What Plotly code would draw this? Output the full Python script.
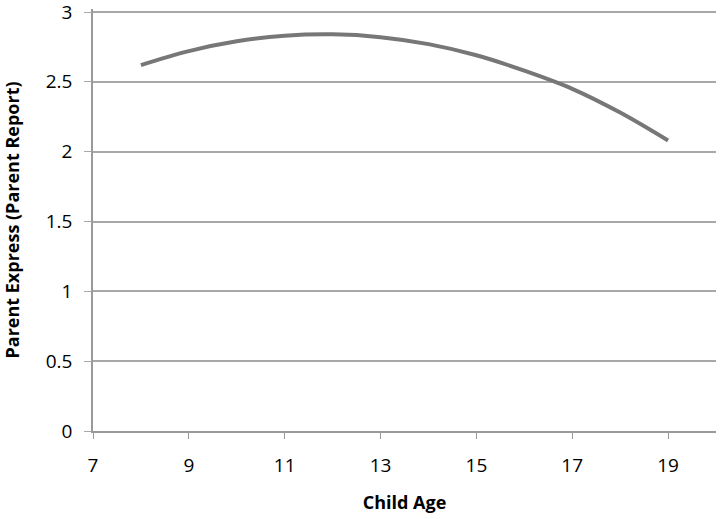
import plotly.graph_objects as go

ages = [8, 9, 10, 11, 12, 13, 14, 15, 16, 17, 18, 19]
parent_express = [2.62, 2.72, 2.79, 2.83, 2.84, 2.82, 2.77, 2.69, 2.58, 2.45, 2.28, 2.08]

x_tick_start, x_tick_step = 7, 2
y_tick_start, y_tick_step = 0, 0.5

fig = go.Figure()
fig.add_trace(go.Scatter(
    x=ages, y=parent_express, mode="lines",
    line=dict(color="#777777", width=4, shape="spline"),
    showlegend=False,
))

font = "Open Sans, Liberation Sans, Arial, sans-serif"
fig.update_layout(
    width=720, height=519,
    margin=dict(l=93, r=4, t=9, b=88),
    paper_bgcolor="white", plot_bgcolor="white",
    font=dict(family=font, size=19, color="black"),
    xaxis=dict(
        range=[7, 20], tickmode="linear", tick0=x_tick_start, dtick=x_tick_step,
        showgrid=False, zeroline=False, automargin=False,
        showline=True, linecolor="#9a9a9a", linewidth=1.5,
        ticks="outside", ticklen=6, tickcolor="#9a9a9a",
        tickfont=dict(size=19), ticklabelstandoff=10, ticklabeloverflow="allow",
        title=dict(text="<b>Child Age</b>", font=dict(size=18), standoff=20),
    ),
    yaxis=dict(
        range=[0, 3.0215], tickmode="linear", tick0=y_tick_start, dtick=y_tick_step,
        automargin=False, ticklabeloverflow="allow",
        showgrid=True, gridcolor="#a8a8a8", gridwidth=1.5, zeroline=False,
        showline=True, linecolor="#9a9a9a", linewidth=1.5,
        ticks="outside", ticklen=7, tickcolor="#a8a8a8",
        tickfont=dict(size=19), ticklabelstandoff=8,
        title=dict(text="<b>Parent Express (Parent Report)</b>", font=dict(size=18), standoff=23),
    ),
)

fig.write_html("out.html", config={"displayModeBar": False},
               post_script="document.body.style.margin='0';")
